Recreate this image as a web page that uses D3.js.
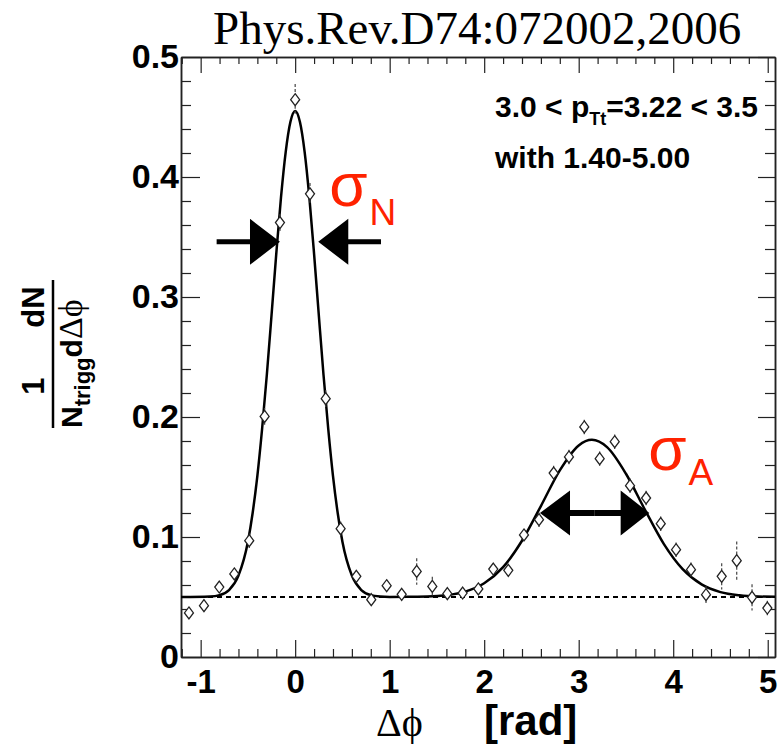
<!DOCTYPE html>
<html>
<head>
<meta charset="utf-8">
<script src="https://cdn.jsdelivr.net/npm/d3@7"></script>
<style>
  body { margin: 0; background: #fff; }
  svg { display: block; }
  .tick text { font-family: "Liberation Sans", Arial, sans-serif; font-weight: bold; fill: #000; }
</style>
</head>
<body>
<div id="chart"></div>
<script>
// Delta phi bin centres [rad] and per-trigger yields
const dphi = [-1.124, -0.965, -0.803, -0.644, -0.486, -0.323, -0.161, 0.000, 0.157, 0.323,
              0.481, 0.647, 0.805, 0.968, 1.127, 1.286, 1.451, 1.610, 1.772, 1.938,
              2.096, 2.255, 2.421, 2.580, 2.735, 2.897, 3.059, 3.222, 3.381, 3.543,
              3.713, 3.868, 4.030, 4.188, 4.347, 4.513, 4.672, 4.834, 4.996];
const yieldVals = [0.0367, 0.0428, 0.0583, 0.0692, 0.0969, 0.2005, 0.3620, 0.4644, 0.3860, 0.2153,
                   0.1069, 0.0672, 0.0478, 0.0594, 0.0522, 0.0713, 0.0588, 0.0528, 0.0533, 0.0567,
                   0.0733, 0.0722, 0.1017, 0.1144, 0.1533, 0.1667, 0.1917, 0.1653, 0.1794, 0.1428,
                   0.1325, 0.1111, 0.0894, 0.0728, 0.0519, 0.0672, 0.0803, 0.0497, 0.0408];
const yieldErr = [0.005, 0.005, 0.005, 0.005, 0.006, 0.007, 0.007, 0.013, 0.009, 0.007,
                  0.006, 0.005, 0.005, 0.005, 0.005, 0.011, 0.008, 0.005, 0.005, 0.005,
                  0.005, 0.005, 0.005, 0.006, 0.006, 0.006, 0.006, 0.006, 0.006, 0.006,
                  0.006, 0.006, 0.006, 0.006, 0.007, 0.011, 0.016, 0.011, 0.006];

// Fit curve (two gaussians + pedestal)
const fitX = [-1.208, -0.9, -0.8, -0.7, -0.6, -0.5, -0.45, -0.4, -0.35, -0.3, -0.25, -0.2, -0.15, -0.1, -0.05,
              0, 0.05, 0.1, 0.15, 0.2, 0.25, 0.3, 0.35, 0.4, 0.45, 0.5, 0.6, 0.7, 0.8, 0.9, 1.0,
              1.2, 1.4, 1.6, 1.8, 2.0, 2.2, 2.4, 2.6, 2.8, 3.0, 3.14, 3.3, 3.5, 3.7, 3.9, 4.1,
              4.3, 4.5, 4.7, 4.9, 5.077];
const fitY = [0.0500, 0.0504, 0.0516, 0.0558, 0.0678, 0.0960, 0.120, 0.151, 0.190, 0.235, 0.285, 0.336, 0.383, 0.421, 0.446,
              0.455, 0.446, 0.421, 0.383, 0.336, 0.285, 0.235, 0.190, 0.151, 0.120, 0.0960, 0.0678, 0.0558, 0.0516, 0.0504, 0.0501,
              0.0502, 0.0504, 0.0515, 0.0545, 0.0614, 0.0749, 0.0969, 0.1258, 0.1555, 0.1763, 0.181, 0.1749, 0.1527, 0.1228, 0.0943, 0.0732,
              0.0605, 0.0541, 0.0514, 0.0504, 0.0502];
const pedestal = 0.05;

// Axis ticks
const xTicks = [-1, 0, 1, 2, 3, 4, 5];
const xTickLabels = ["-1", "0", "1", "2", "3", "4", "5"];
const yTicks = [0, 0.1, 0.2, 0.3, 0.4, 0.5];
const yTickLabels = ["0", "0.1", "0.2", "0.3", "0.4", "0.5"];

// Width arrows (tail, head base, tip) in data units
const nearArrows = [{ tail: -0.831, base: -0.478, tip: -0.161 }, { tail: 0.908, base: 0.562, tip: 0.244 }];
const nearArrowY = 0.346;
const awayArrows = [{ tail: 3.17, base: 2.908, tip: 2.590 }, { tail: 3.17, base: 3.444, tip: 3.747 }];
const awayArrowY = 0.12;

const W = 783, H = 744;
const margin = { top: 57, right: 8, bottom: 87, left: 181 };
const width = W - margin.left - margin.right;
const height = H - margin.top - margin.bottom;

const svg = d3.select("#chart").append("svg")
    .attr("width", W)
    .attr("height", H);

const g = svg.append("g")
    .attr("transform", "translate(" + margin.left + "," + margin.top + ")");

const xScale = d3.scaleLinear().domain([-1.208, 5.077]).range([0, width]);
const yScale = d3.scaleLinear().domain([0, 0.5]).range([height, 0]);

const xMinor = d3.range(-1.2, 5.05, 0.2).filter(v => Math.abs(v - Math.round(v)) > 1e-6);
const yMinor = d3.range(0.02, 0.5, 0.02).filter(v => Math.abs(v * 10 - Math.round(v * 10)) > 1e-6);

function styleAxis(sel) {
    sel.select(".domain").attr("stroke", "#222").attr("stroke-width", 1.5);
    sel.selectAll(".tick line").attr("stroke", "#222").attr("stroke-width", 1.2);
}

// Bottom axis
g.append("g")
    .attr("transform", "translate(0," + height + ")")
    .call(d3.axisBottom(xScale).tickValues(xTicks).tickSizeInner(-17).tickSizeOuter(0).tickPadding(13)
        .tickFormat((d, i) => xTickLabels[i]))
    .call(styleAxis)
    .selectAll("text").style("font-size", "33px");
g.append("g")
    .attr("transform", "translate(0," + height + ")")
    .call(d3.axisBottom(xScale).tickValues(xMinor).tickSizeInner(-8).tickSizeOuter(0).tickFormat(""))
    .call(styleAxis);

// Top axis (ticks only)
g.append("g")
    .call(d3.axisTop(xScale).tickValues(xTicks).tickSizeInner(-16).tickSizeOuter(0).tickFormat(""))
    .call(styleAxis);
g.append("g")
    .call(d3.axisTop(xScale).tickValues(xMinor).tickSizeInner(-7).tickSizeOuter(0).tickFormat(""))
    .call(styleAxis);

// Left axis
g.append("g")
    .call(d3.axisLeft(yScale).tickValues(yTicks).tickSizeInner(-19).tickSizeOuter(0).tickPadding(2)
        .tickFormat((d, i) => yTickLabels[i]))
    .call(styleAxis)
    .selectAll("text").style("font-size", "34px");
g.append("g")
    .call(d3.axisLeft(yScale).tickValues(yMinor).tickSizeInner(-10).tickSizeOuter(0).tickFormat(""))
    .call(styleAxis);

// Right axis (ticks only)
g.append("g")
    .attr("transform", "translate(" + width + ",0)")
    .call(d3.axisRight(yScale).tickValues(yTicks).tickSizeInner(-17).tickSizeOuter(0).tickFormat(""))
    .call(styleAxis);
g.append("g")
    .attr("transform", "translate(" + width + ",0)")
    .call(d3.axisRight(yScale).tickValues(yMinor).tickSizeInner(-10).tickSizeOuter(0).tickFormat(""))
    .call(styleAxis);

// Pedestal (dashed)
g.append("line")
    .attr("x1", xScale.range()[0])
    .attr("x2", xScale.range()[1])
    .attr("y1", yScale(pedestal))
    .attr("y2", yScale(pedestal))
    .attr("stroke", "#000")
    .attr("stroke-width", 2)
    .attr("stroke-dasharray", "5,4");

// Fit curve
const fitLine = d3.line()
    .x((d, i) => xScale(fitX[i]))
    .y(d => yScale(d))
    .curve(d3.curveMonotoneX);

g.append("path")
    .datum(fitY)
    .attr("d", fitLine)
    .attr("fill", "none")
    .attr("stroke", "#000")
    .attr("stroke-width", 2.5);

// Data points: hollow diamonds with error bars outside the marker
const mH = 6, mW = 4.5;
const points = dphi.map((x, i) => ({ x: x, y: yieldVals[i], e: yieldErr[i] }));

const errG = g.append("g");
points.forEach(d => {
    const yc = yScale(d.y), yt = yScale(d.y + d.e), yb = yScale(d.y - d.e);
    if (yc - yt > mH + 1) {
        errG.append("line")
            .attr("x1", xScale(d.x)).attr("x2", xScale(d.x))
            .attr("y1", yt).attr("y2", yc - mH)
            .attr("stroke", "#444").attr("stroke-width", 1.2).attr("stroke-dasharray", "3,2");
        errG.append("line")
            .attr("x1", xScale(d.x)).attr("x2", xScale(d.x))
            .attr("y1", yc + mH).attr("y2", yb)
            .attr("stroke", "#444").attr("stroke-width", 1.2).attr("stroke-dasharray", "3,2");
    }
});

g.selectAll(".pt")
    .data(points)
    .enter()
    .append("path")
    .attr("class", "pt")
    .attr("transform", d => "translate(" + xScale(d.x) + "," + yScale(d.y) + ")")
    .attr("d", "M0," + (-mH) + "L" + mW + ",0L0," + mH + "L" + (-mW) + ",0Z")
    .attr("fill", "#fff")
    .attr("stroke", "#222")
    .attr("stroke-width", 1.3);

// Width arrows
function arrowPath(a, yv, hh, sw) {
    const y0 = yScale(yv), xt = xScale(a.tail), xb = xScale(a.base), xp = xScale(a.tip);
    return "M" + xt + "," + (y0 - sw / 2) + "L" + xb + "," + (y0 - sw / 2) + "L" + xb + "," + (y0 - hh) +
        "L" + xp + "," + y0 + "L" + xb + "," + (y0 + hh) + "L" + xb + "," + (y0 + sw / 2) +
        "L" + xt + "," + (y0 + sw / 2) + "Z";
}
nearArrows.forEach(a => {
    g.append("path").attr("d", arrowPath(a, nearArrowY, 23, 5)).attr("fill", "#000");
});
awayArrows.forEach(a => {
    g.append("path").attr("d", arrowPath(a, awayArrowY, 22.5, 6)).attr("fill", "#000");
});

// sigma labels (sigma with subscript in one text)
const red = "#ff2200";
const sans = "Liberation Sans, Arial, sans-serif";
function sigmaLabel(xv, yv, sub, drop) {
    const t = g.append("text")
        .attr("x", xScale(xv)).attr("y", yScale(yv))
        .style("font-family", sans).style("font-size", "62px")
        .attr("fill", red);
    t.append("tspan").text("σ");
    t.append("tspan").attr("dx", 2).attr("dy", drop).style("font-size", "37px").text(sub);
}
sigmaLabel(0.36, 0.3755, "N", 19);
sigmaLabel(3.736, 0.156, "A", 15);

// Title
svg.append("text")
    .attr("x", 213).attr("y", 44)
    .style("font-family", "Liberation Serif, Times New Roman, serif").style("font-size", "47px")
    .text("Phys.Rev.D74:072002,2006");

// Trigger / associated ranges
const info = svg.append("text")
    .attr("x", 495).attr("y", 117)
    .style("font-family", sans).style("font-weight", "bold")
    .style("font-size", "30px");
info.append("tspan").text("3.0 < p");
info.append("tspan").attr("dy", 8).style("font-size", "18px").text("Tt");
info.append("tspan").attr("dy", -8).text("=3.22 < 3.5");

svg.append("text")
    .attr("x", 495).attr("y", 168)
    .style("font-family", sans).style("font-weight", "bold")
    .style("font-size", "30px")
    .text("with 1.40-5.00");

// X axis title
svg.append("text")
    .attr("x", 376).attr("y", 736)
    .style("font-family", "Liberation Serif, DejaVu Serif, serif").style("font-size", "40px")
    .text("Δϕ");
svg.append("text")
    .attr("x", 484).attr("y", 735)
    .style("font-family", sans).style("font-weight", "bold")
    .style("font-size", "42px")
    .text("[rad]");

// Y axis title: 1/N_trigg dN/dDeltaphi, rotated
const yt = svg.append("g").attr("transform", "translate(53,428) rotate(-90)");
yt.append("line").attr("x1", 0).attr("x2", 148).attr("y1", 0).attr("y2", 0)
    .attr("stroke", "#000").attr("stroke-width", 2.5);
yt.append("text").attr("x", 42).attr("y", -9).attr("text-anchor", "middle")
    .style("font-family", sans).style("font-weight", "bold").style("font-size", "31px").text("1");
yt.append("text").attr("x", 121).attr("y", -9).attr("text-anchor", "middle")
    .style("font-family", sans).style("font-weight", "bold").style("font-size", "31px").text("dN");
const den = yt.append("text").attr("x", 0).attr("y", 29)
    .style("font-family", sans).style("font-weight", "bold").style("font-size", "30px");
den.append("tspan").text("N");
den.append("tspan").attr("dy", 8).style("font-size", "22px").text("trigg");
den.append("tspan").attr("dy", -8).text("d");
den.append("tspan").style("font-family", "Liberation Serif, DejaVu Serif, serif").style("font-weight", "normal")
    .style("font-size", "34px").text("Δϕ");
</script>
</body>
</html>
